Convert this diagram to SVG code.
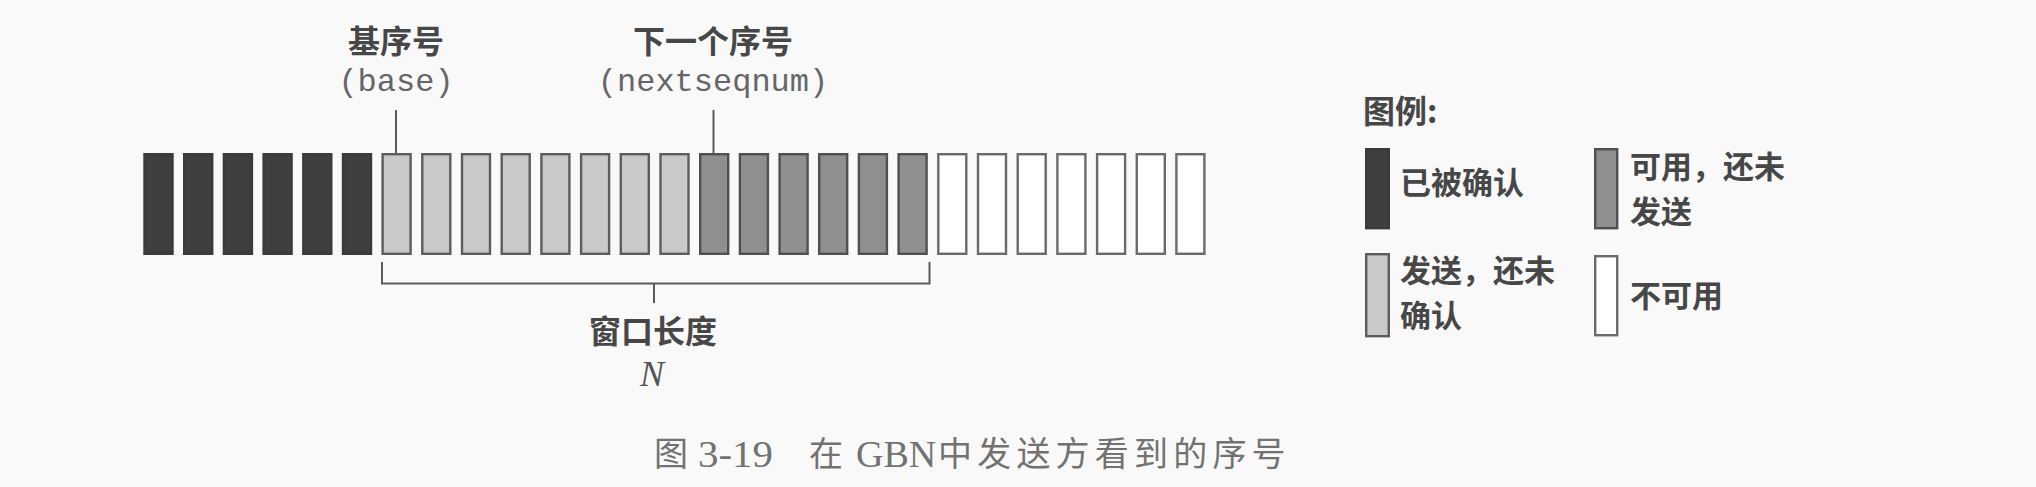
<svg xmlns="http://www.w3.org/2000/svg" width="2036" height="487" viewBox="0 0 2036 487">
<style>
.dk{fill:#3f3f3f;stroke:#3a3a3a;stroke-width:2.4}
.lt{fill:#c9c9c9;stroke:#5c5c5c;stroke-width:2.4}
.md{fill:#8f8f8f;stroke:#505050;stroke-width:2.4}
.wh{fill:#ffffff;stroke:#6a6a6a;stroke-width:2.4}
.cn{fill:none;stroke:#5a5a5a;stroke-width:2}
.lb{font-family:"Noto Sans CJK SC",sans-serif;font-weight:700;font-size:32px;fill:#474747}
.lg{font-family:"Noto Sans CJK SC",sans-serif;font-weight:700;font-size:31px;fill:#474747}
.mono{font-family:"Liberation Mono",monospace;font-size:32px;fill:#666666}
.capc{font-family:"Noto Sans CJK SC",sans-serif;font-size:34px;fill:#727272}
.capl{font-family:"Liberation Serif",serif;font-size:38px;fill:#727272}
</style>
<rect width="2036" height="487" fill="#f9f9f9"/>
<g id="labels">
<text class="lb" x="396" y="53" text-anchor="middle">基序号</text>
<text class="mono" x="396" y="91" text-anchor="middle">(base)</text>
<text class="lb" x="713" y="53" text-anchor="middle">下一个序号</text>
<text class="mono" x="713" y="91" text-anchor="middle">(nextseqnum)</text>
<text class="lb" x="653" y="343" text-anchor="middle">窗口长度</text>
<text x="652" y="386" text-anchor="middle" font-family="Liberation Serif,serif" font-style="italic" font-size="36" fill="#555555">N</text>
</g>
<g id="sequence">
<rect class="dk" x="144.5" y="154.2" width="28" height="99.6"/>
<rect class="dk" x="184.2" y="154.2" width="28" height="99.6"/>
<rect class="dk" x="223.9" y="154.2" width="28" height="99.6"/>
<rect class="dk" x="263.6" y="154.2" width="28" height="99.6"/>
<rect class="dk" x="303.3" y="154.2" width="28" height="99.6"/>
<rect class="dk" x="343.0" y="154.2" width="28" height="99.6"/>
<rect class="lt" x="382.6" y="154.2" width="28" height="99.6"/>
<rect class="lt" x="422.3" y="154.2" width="28" height="99.6"/>
<rect class="lt" x="462.0" y="154.2" width="28" height="99.6"/>
<rect class="lt" x="501.7" y="154.2" width="28" height="99.6"/>
<rect class="lt" x="541.4" y="154.2" width="28" height="99.6"/>
<rect class="lt" x="581.1" y="154.2" width="28" height="99.6"/>
<rect class="lt" x="620.8" y="154.2" width="28" height="99.6"/>
<rect class="lt" x="660.5" y="154.2" width="28" height="99.6"/>
<rect class="md" x="700.2" y="154.2" width="28" height="99.6"/>
<rect class="md" x="739.9" y="154.2" width="28" height="99.6"/>
<rect class="md" x="779.6" y="154.2" width="28" height="99.6"/>
<rect class="md" x="819.2" y="154.2" width="28" height="99.6"/>
<rect class="md" x="858.9" y="154.2" width="28" height="99.6"/>
<rect class="md" x="898.6" y="154.2" width="28" height="99.6"/>
<rect class="wh" x="938.3" y="154.2" width="28" height="99.6"/>
<rect class="wh" x="978.0" y="154.2" width="28" height="99.6"/>
<rect class="wh" x="1017.7" y="154.2" width="28" height="99.6"/>
<rect class="wh" x="1057.4" y="154.2" width="28" height="99.6"/>
<rect class="wh" x="1097.1" y="154.2" width="28" height="99.6"/>
<rect class="wh" x="1136.8" y="154.2" width="28" height="99.6"/>
<rect class="wh" x="1176.4" y="154.2" width="28" height="99.6"/>
</g>
<g id="connectors">
<line class="cn" x1="396" y1="110" x2="396" y2="153"/>
<line class="cn" x1="713.5" y1="110" x2="713.5" y2="153"/>
<path class="cn" d="M382,262 V283.5 H929.5 V262"/>
<line class="cn" x1="654" y1="283.5" x2="654" y2="303"/>
</g>
<g id="legend">
<text class="lb" x="1363" y="123" font-size="30">图例:</text>
<g id="legend-acked">
<rect class="dk" x="1366.2" y="149.2" width="22.6" height="79"/>
<text class="lg" x="1400" y="194">已被确认</text>
</g>
<g id="legend-usable">
<rect class="md" x="1595.2" y="149.2" width="22" height="79"/>
<text class="lg" x="1630" y="178">可用，还未</text>
<text class="lg" x="1630" y="223">发送</text>
</g>
<g id="legend-sent">
<rect class="lt" x="1366.2" y="254.2" width="22.6" height="82"/>
<text class="lg" x="1400" y="282">发送，还未</text>
<text class="lg" x="1400" y="327">确认</text>
</g>
<g id="legend-unusable">
<rect class="wh" x="1595.2" y="256.2" width="22" height="79"/>
<text class="lg" x="1630" y="307">不可用</text>
</g>
</g>
<g id="caption">
<text class="capc" x="654" y="466">图</text>
<text class="capl" x="698" y="467" textLength="75" lengthAdjust="spacingAndGlyphs">3-19</text>
<text class="capc" x="809" y="466">在</text>
<text class="capl" x="856" y="467" font-size="31">GBN</text>
<text class="capc" x="938" y="466" letter-spacing="5.2">中发送方看到的序号</text>
</g>
</svg>
